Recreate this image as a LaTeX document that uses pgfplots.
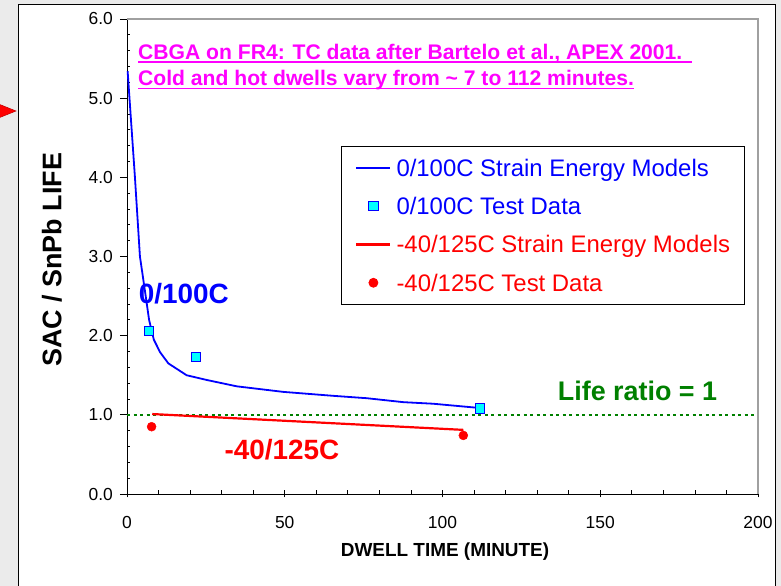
\documentclass[border=0pt]{standalone}
\usepackage{fontspec}
\setmainfont{Liberation Sans}
\usepackage{pgfplots}
\pgfplotsset{compat=1.18}

\definecolor{pagegray}{RGB}{235,235,235}
\definecolor{framegray}{RGB}{160,160,160}
\definecolor{titlemag}{RGB}{255,0,255}
\definecolor{ratiogreen}{RGB}{0,128,0}
\definecolor{sqcyan}{RGB}{0,255,255}

% legend samples: a short line, or a single mark
\pgfplotsset{
  lineleg/.style={legend image code/.code={\draw[##1] (0bp,0bp) -- (34bp,0bp);}},
  markleg/.style={legend image code/.code={\draw[##1] plot coordinates {(17bp,0bp)};}},
}

\begin{document}
\begin{tikzpicture}
\useasboundingbox (0bp,0bp) rectangle (781bp,586bp);
\fill[pagegray] (0bp,0bp) rectangle (781bp,586bp);
\draw[fill=white,line width=1bp] (18.5bp,581.5bp) rectangle (775.5bp,-10bp);
\filldraw[fill=red,draw=red!75!black,line width=0.5bp]
  (16bp,475bp) -- (-4bp,483bp) -- (-4bp,467bp) -- cycle;

\begin{axis}[
  at={(127bp,92bp)}, anchor=south west,
  scale only axis, width=631bp, height=475bp,
  xmin=0, xmax=200, ymin=0, ymax=6,
  clip=false,
  axis x line*=bottom, axis y line*=left,
  axis line style={-,black,line width=0.8bp},
  xtick={0,50,...,200}, ytick={0,1,...,6},
  minor x tick num=4, minor y tick num=4,
  tick align=inside,
  major tick length=7bp, minor tick length=3.5bp,
  every tick/.style={black,line width=0.8bp},
  every major y tick/.append style={xshift=-7bp},
  every major x tick/.append style={yshift=-3.5bp},
  /pgf/number format/assume math mode=true,
  tick label style={font=\fontsize{17.5}{20}\selectfont},
  yticklabel style={/pgf/number format/.cd,fixed,fixed zerofill,precision=1,/tikz/.cd,
    anchor=east, inner sep=0pt, xshift=-14bp},
  xticklabel style={anchor=north, inner sep=0pt, yshift=-22bp},
  ylabel={\textbf{SAC / SnPb LIFE}},
  ylabel style={at={(axis description cs:-0.119,0.493)}, anchor=center,
    font=\fontsize{27}{30}\selectfont},
  xlabel={\textbf{DWELL TIME (MINUTE)}},
  xlabel style={at={(axis description cs:0.504,-0.122)}, anchor=center,
    font=\fontsize{19}{22}\selectfont},
  legend style={draw=black, line width=0.8bp, at={(0.339,0.733)}, anchor=north west,
    font=\fontsize{24}{27}\selectfont, row sep=15bp,
    inner xsep=14bp, inner ysep=10bp,
    nodes={inner sep=0pt, text height=20bp, text depth=3.3bp},
    /tikz/every odd column/.append style={column sep=5bp}},
  legend cell align=left,
]

% reference line: life ratio of one
\addplot[ratiogreen, line width=2bp, dash pattern=on 3bp off 3.5bp, forget plot]
  coordinates {(0,1) (200,1)};

% 0/100C strain energy model
\addplot[blue, line width=1.8bp, lineleg]
  coordinates {
  (0.2,5.34) (2.5,4.01) (4.1,3.00) (5.2,2.70) (7.0,2.20) (8.5,1.95)
  (10.5,1.79) (13.1,1.65) (18.9,1.50) (25.3,1.44) (34.8,1.36) (49.5,1.29)
  (65.4,1.24) (76.0,1.21) (87.6,1.16) (97.1,1.14) (110.8,1.09)};
\addlegendentry[text=blue]{0/100C Strain Energy Models}

% 0/100C test data
\addplot[only marks, mark=square*, mark size=4.6bp,
  mark options={fill=sqcyan, draw=blue, line width=0.9bp}, markleg]
  coordinates {(7.0,2.06) (21.8,1.73) (111.9,1.08)};
\addlegendentry[text=blue]{0/100C Test Data}

% -40/125C strain energy model
\addplot[red, line width=2.2bp, lineleg]
  coordinates {(8.0,1.01) (106.6,0.81)};
\addlegendentry[text=red]{-40/125C Strain Energy Models}

% -40/125C test data
\addplot[only marks, mark=*, mark size=4.5bp, mark options={fill=red, draw=red}, markleg]
  coordinates {(7.8,0.85) (106.6,0.74)};
\addlegendentry[text=red]{-40/125C Test Data}

% annotations
\node[anchor=base west, inner sep=0pt, text=titlemag,
  font=\bfseries\fontsize{21.2}{24}\selectfont] (t1) at (axis cs:3.49,5.49)
  {CBGA on FR4: TC data after Bartelo et al., APEX 2001.};
\draw[titlemag, line width=1.8bp] ([yshift=-3bp]t1.base west) -- ++(554bp,0bp);
\node[anchor=base west, inner sep=0pt, text=titlemag,
  font=\bfseries\fontsize{21.2}{24}\selectfont] (t2) at (axis cs:3.49,5.16)
  {Cold and hot dwells vary from \char`\~\ 7 to 112 minutes.};
\draw[titlemag, line width=1.8bp] ([yshift=-3bp]t2.base west) -- ++(496bp,0bp);

\node[anchor=base, inner sep=0pt, text=blue, font=\bfseries\fontsize{28}{32}\selectfont]
  at (axis cs:18.0,2.41) {0/100C};
\node[anchor=base, inner sep=0pt, text=red, font=\bfseries\fontsize{28}{32}\selectfont]
  at (axis cs:49.1,0.43) {-40/125C};
\node[anchor=base, inner sep=0pt, text=ratiogreen, font=\bfseries\fontsize{27}{30}\selectfont]
  at (axis cs:161.8,1.178) {Life ratio = 1};

% upper and right frame of the plot area
\draw[framegray, line width=1.3bp] (rel axis cs:0,1) -- (rel axis cs:1,1) -- (rel axis cs:1,0);
\end{axis}
\end{tikzpicture}
\end{document}
